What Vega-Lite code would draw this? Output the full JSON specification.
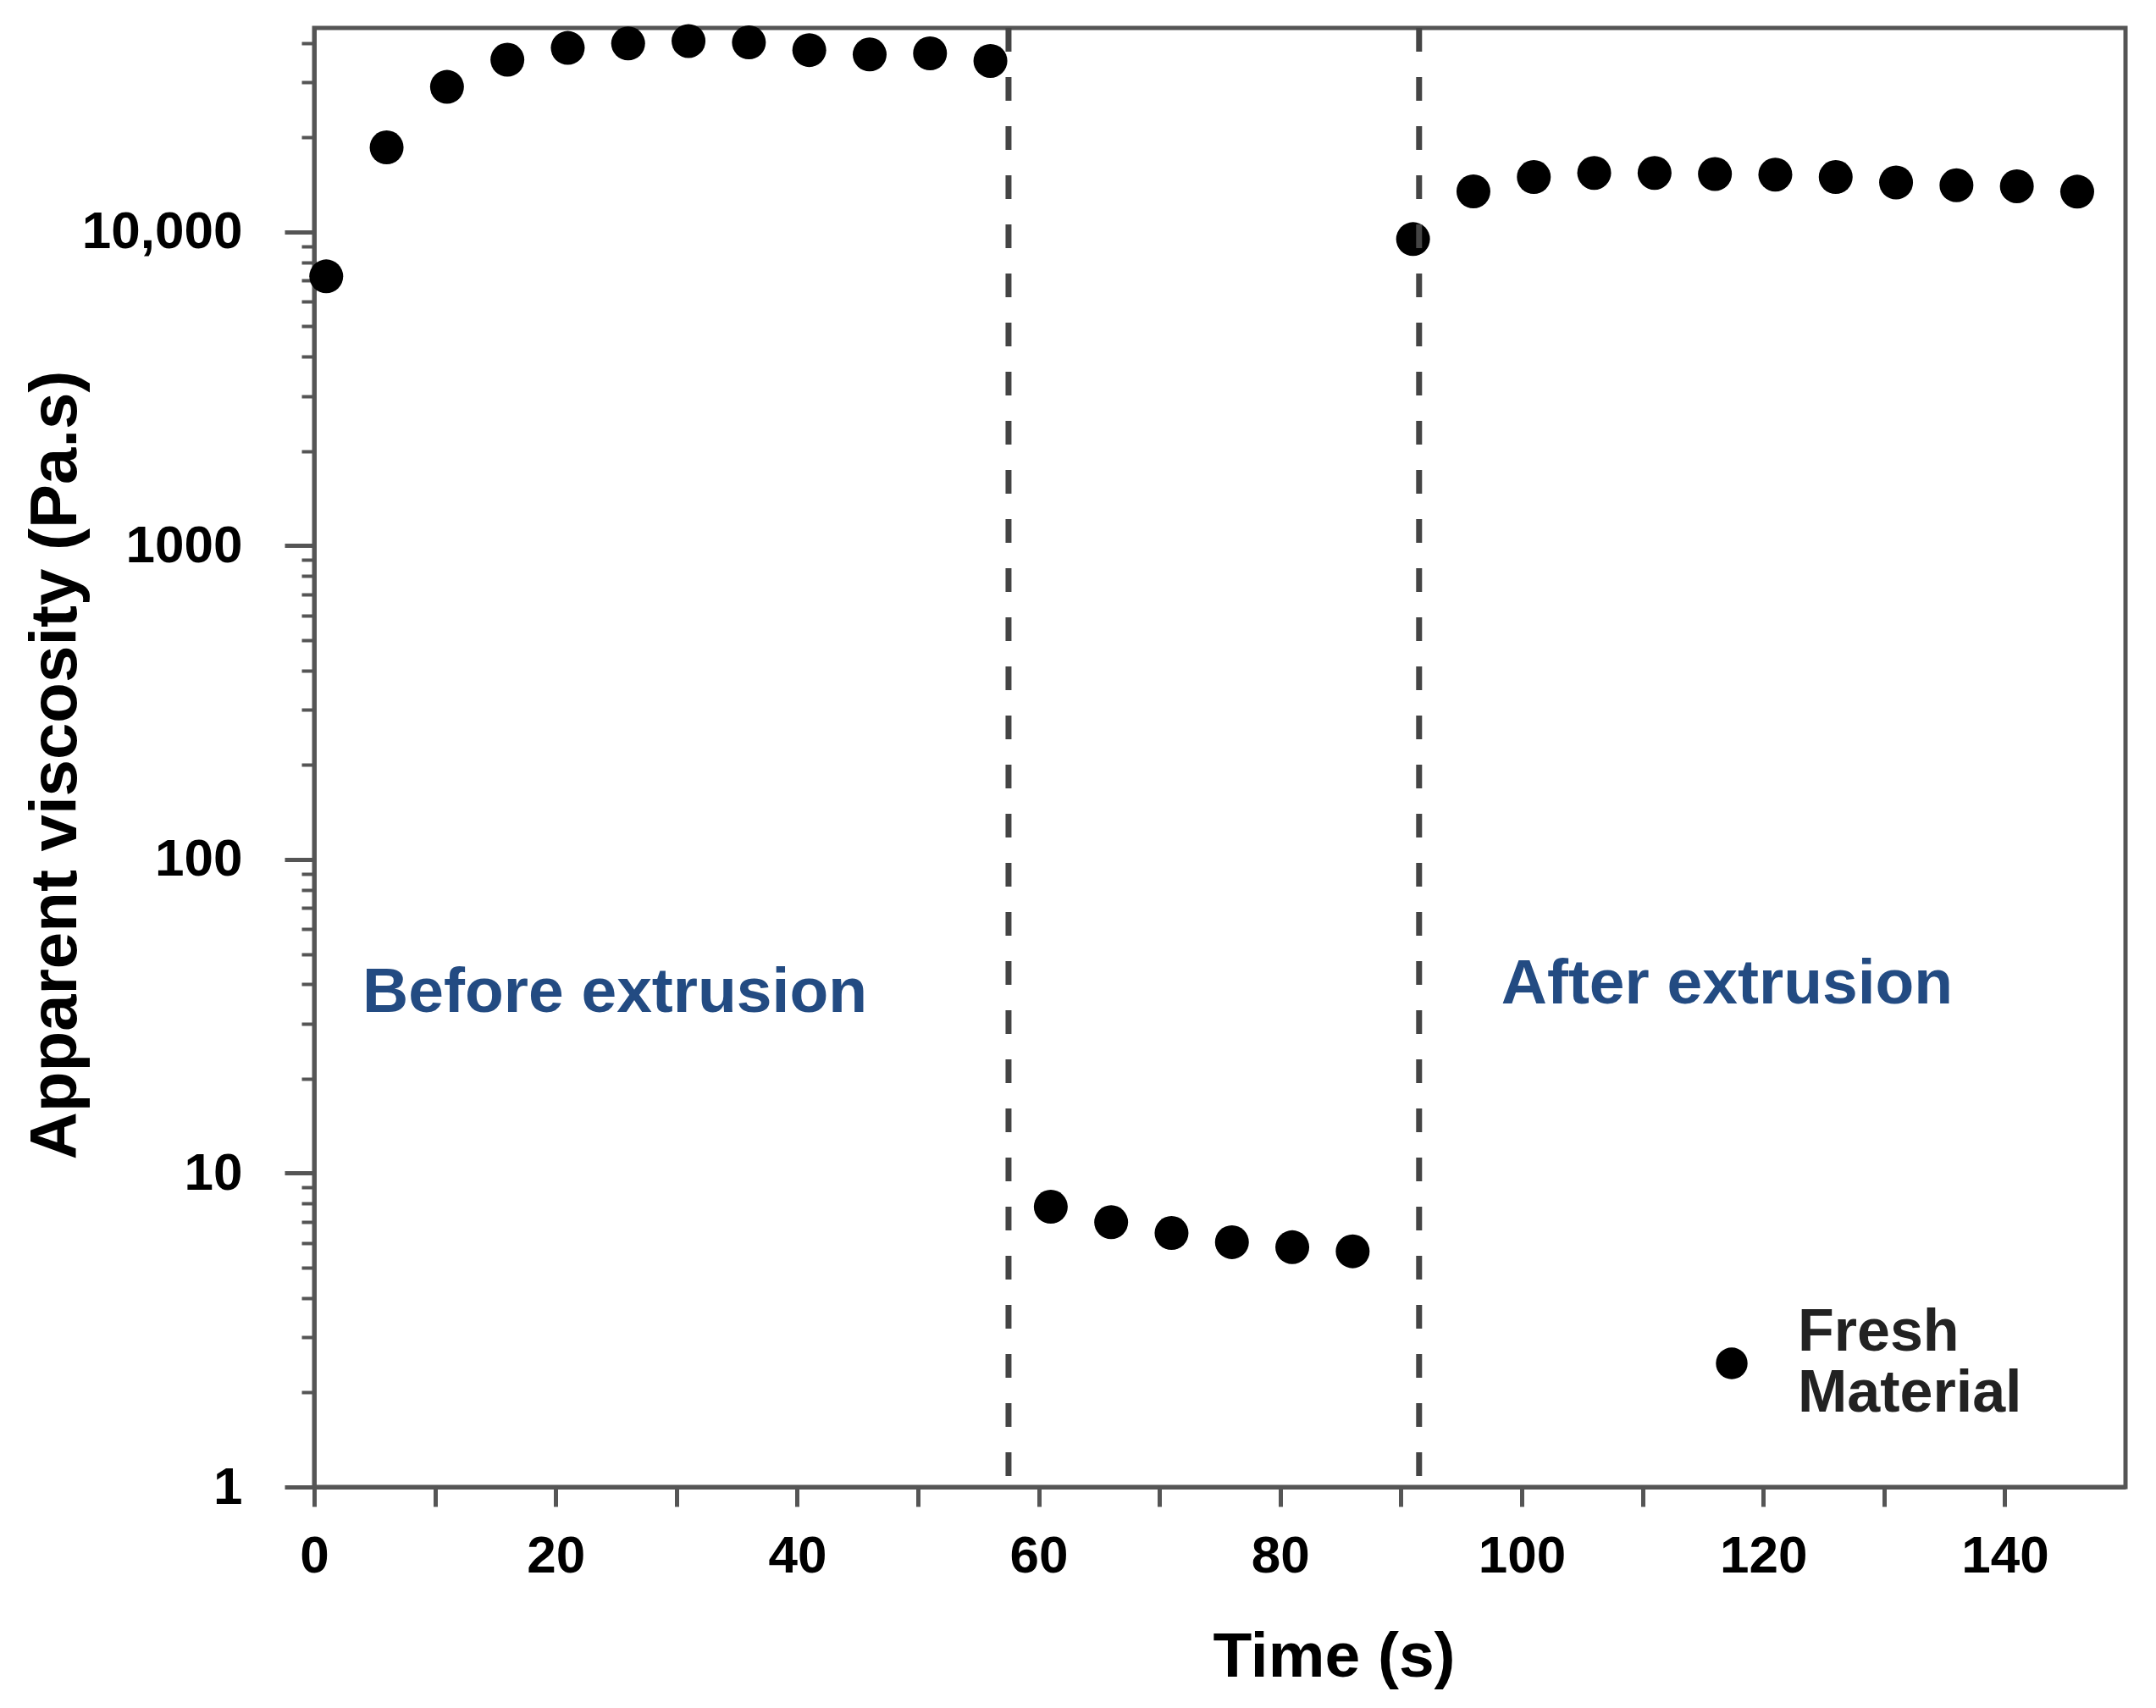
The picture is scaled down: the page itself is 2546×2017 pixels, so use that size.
{
  "$schema": "https://vega.github.io/schema/vega-lite/v6.json",
  "autosize": {"type": "none"},
  "padding": {"left": 371, "top": 33, "right": 36, "bottom": 261},
  "width": 2139,
  "height": 1723,
  "background": "white",
  "datasets": {
    "points": [
      {"time": 1, "viscosity": 7220, "series": "Fresh Material"},
      {"time": 6, "viscosity": 18600, "series": "Fresh Material"},
      {"time": 11, "viscosity": 29000, "series": "Fresh Material"},
      {"time": 16, "viscosity": 35400, "series": "Fresh Material"},
      {"time": 21, "viscosity": 38600, "series": "Fresh Material"},
      {"time": 26, "viscosity": 39900, "series": "Fresh Material"},
      {"time": 31, "viscosity": 40600, "series": "Fresh Material"},
      {"time": 36, "viscosity": 40200, "series": "Fresh Material"},
      {"time": 41, "viscosity": 38000, "series": "Fresh Material"},
      {"time": 46, "viscosity": 36800, "series": "Fresh Material"},
      {"time": 51, "viscosity": 37100, "series": "Fresh Material"},
      {"time": 56, "viscosity": 35100, "series": "Fresh Material"},
      {"time": 61, "viscosity": 7.82, "series": "Fresh Material"},
      {"time": 66, "viscosity": 6.98, "series": "Fresh Material"},
      {"time": 71, "viscosity": 6.45, "series": "Fresh Material"},
      {"time": 76, "viscosity": 6.03, "series": "Fresh Material"},
      {"time": 81, "viscosity": 5.81, "series": "Fresh Material"},
      {"time": 86, "viscosity": 5.64, "series": "Fresh Material"},
      {"time": 91, "viscosity": 9490, "series": "Fresh Material"},
      {"time": 96, "viscosity": 13470, "series": "Fresh Material"},
      {"time": 101, "viscosity": 14970, "series": "Fresh Material"},
      {"time": 106, "viscosity": 15430, "series": "Fresh Material"},
      {"time": 111, "viscosity": 15430, "series": "Fresh Material"},
      {"time": 116, "viscosity": 15300, "series": "Fresh Material"},
      {"time": 121, "viscosity": 15240, "series": "Fresh Material"},
      {"time": 126, "viscosity": 14970, "series": "Fresh Material"},
      {"time": 131, "viscosity": 14380, "series": "Fresh Material"},
      {"time": 136, "viscosity": 14090, "series": "Fresh Material"},
      {"time": 141, "viscosity": 13990, "series": "Fresh Material"},
      {"time": 146, "viscosity": 13440, "series": "Fresh Material"}
    ],
    "dividers": [
      {"time": 57.5},
      {"time": 91.5}
    ],
    "labels": [
      {"time": 4, "viscosity": 37.7, "text": "Before extrusion"},
      {"time": 98.3, "viscosity": 40.1, "text": "After extrusion"}
    ]
  },
  "layer": [
    {
      "data": {"name": "points"},
      "mark": {"type": "point", "shape": "circle", "filled": true, "size": 1600, "opacity": 1},
      "encoding": {
        "x": {
          "field": "time",
          "type": "quantitative",
          "scale": {"domain": [0, 150], "nice": false},
          "axis": {
            "title": "Time (s)",
            "values": [0, 10, 20, 30, 40, 50, 60, 70, 80, 90, 100, 110, 120, 130, 140],
            "labelExpr": "datum.value % 20 == 0 ? datum.label : ''",
            "labelFlush": false,
            "tickSize": 23,
            "tickWidth": 5,
            "labelFontSize": 62,
            "labelPadding": 28,
            "titleFontSize": 75,
            "titleX": 1204,
            "titleY": 200,
            "titleBaseline": "middle"
          }
        },
        "y": {
          "field": "viscosity",
          "type": "quantitative",
          "scale": {"type": "log", "domain": [1, 44700], "nice": false},
          "axis": {
            "orient": "left",
            "title": "Apparent viscosity (Pa.s)",
            "values": [1, 10, 100, 1000, 10000],
            "labelExpr": "datum.value == 10000 ? '10,000' : format(datum.value, 'd')",
            "labelLimit": 400,
            "labelFlush": false,
            "tickSize": 35,
            "tickWidth": 5,
            "labelFontSize": 62,
            "labelPadding": 50,
            "titleFontSize": 78,
            "titleX": -305,
            "titleY": 870,
            "titleAngle": -90,
            "titleBaseline": "middle",
            "titleAlign": "center"
          }
        },
        "color": {
          "field": "series",
          "type": "nominal",
          "scale": {"range": ["black"]},
          "legend": {
            "title": null,
            "orient": "none",
            "legendX": 1639,
            "legendY": 1542,
            "symbolSize": 1400,
            "symbolType": "circle",
            "symbolStrokeWidth": 0,
            "labelFontSize": 70,
            "labelFont": "Liberation Sans",
            "labelFontWeight": "bold",
            "labelColor": "#222222",
            "labelLimit": 600,
            "labelOffset": 43,
            "labelBaseline": "bottom",
            "labelExpr": "['Fresh', 'Material']",
            "padding": 0
          }
        }
      }
    },
    {
      "data": {"name": "points"},
      "mark": {"type": "point", "opacity": 0},
      "encoding": {
        "x": {"field": "time", "type": "quantitative"},
        "y": {
          "field": "viscosity",
          "type": "quantitative",
          "axis": {
            "title": null,
            "orient": "left",
            "values": [2, 3, 4, 5, 6, 7, 8, 9, 20, 30, 40, 50, 60, 70, 80, 90, 200, 300, 400, 500, 600, 700, 800, 900, 2000, 3000, 4000, 5000, 6000, 7000, 8000, 9000, 20000, 30000, 40000],
            "labels": false,
            "domain": false,
            "tickSize": 15,
            "tickWidth": 4
          }
        }
      }
    },
    {
      "data": {"name": "dividers"},
      "mark": {"type": "rule", "color": "#444444", "strokeWidth": 7, "strokeDash": [28, 30]},
      "encoding": {
        "x": {"field": "time", "type": "quantitative"}
      }
    },
    {
      "data": {"name": "labels"},
      "mark": {"type": "text", "align": "left", "baseline": "middle", "font": "Liberation Sans", "fontWeight": "bold", "fontSize": 75, "color": "#234b82"},
      "encoding": {
        "x": {"field": "time", "type": "quantitative"},
        "y": {"field": "viscosity", "type": "quantitative", "axis": null},
        "text": {"field": "text"}
      }
    }
  ],
  "resolve": {"axis": {"y": "independent"}},
  "config": {
    "font": "Liberation Sans",
    "view": {"stroke": "#555555", "strokeWidth": 5},
    "axis": {
      "grid": false,
      "tickColor": "#555555",
      "domainColor": "#555555",
      "domainWidth": 5,
      "labelFont": "Liberation Sans",
      "labelFontWeight": "bold",
      "labelColor": "#000000",
      "titleFont": "Liberation Sans",
      "titleFontWeight": "bold",
      "titleColor": "#000000"
    }
  }
}
